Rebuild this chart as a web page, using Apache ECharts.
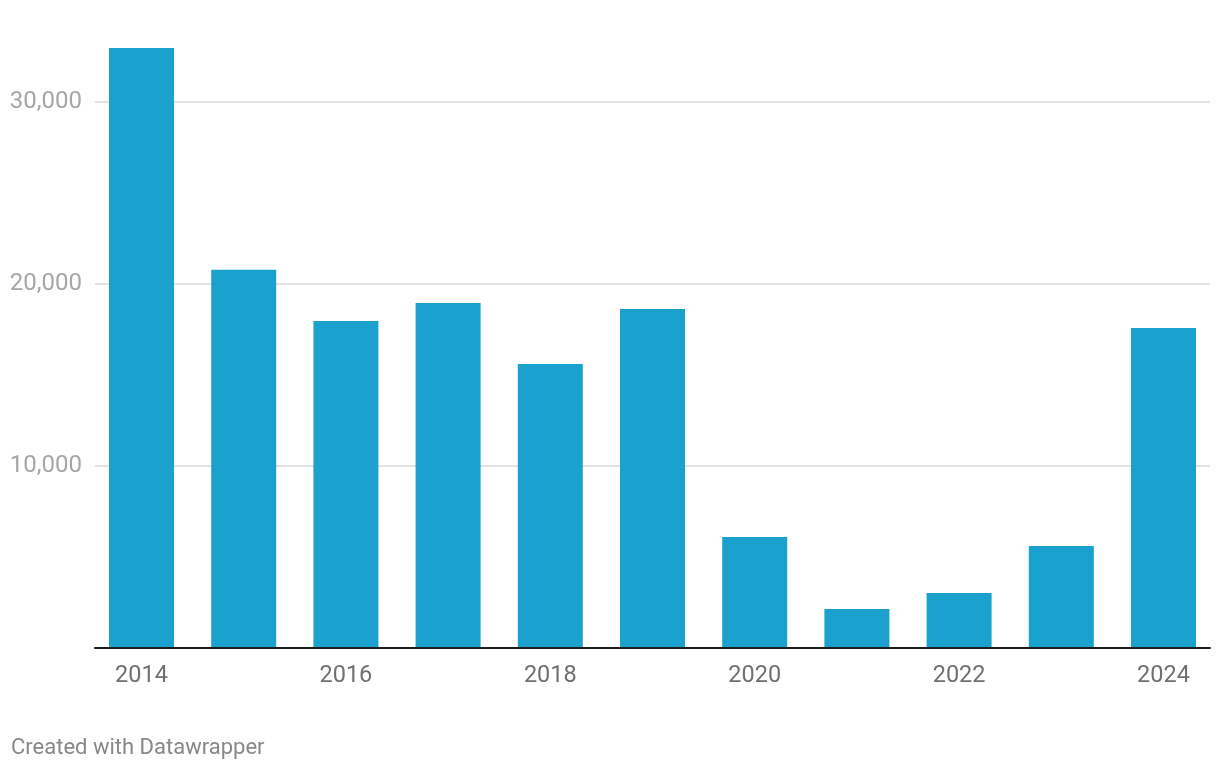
<!DOCTYPE html>
<html>
<head>
<meta charset="utf-8">
<script src="https://cdn.jsdelivr.net/npm/echarts@6/dist/echarts.min.js"></script>
<style>
* { margin: 0; padding: 0; }
body { background: #fff; }
#chart { width: 1220px; height: 770px; }
</style>
</head>
<body>
<div id="chart"></div>
<script>
// data
const years = ['2014', '2015', '2016', '2017', '2018', '2019', '2020', '2021', '2022', '2023', '2024']
const values = [32970, 20780, 17970, 18950, 15600, 18630, 6100, 2140, 3020, 5600, 17580]
const yMax = 35000
const yStep = 10000

const font = 'Roboto, "Noto Sans", sans-serif'
const chart = echarts.init(document.getElementById('chart'))

chart.setOption({
    animation: false,
    textStyle: { fontFamily: font },
    grid: [
        // bars
        { left: 90.4, width: 1124.2, top: 11, bottom: 122 },
        // gridlines, labels and baseline
        { left: 95, right: 10, top: 11, bottom: 122 }
    ],
    xAxis: [
        {
            type: 'category',
            gridIndex: 0,
            data: years,
            axisLine: { show: false },
            axisTick: { show: false },
            axisLabel: {
                interval: 1,
                color: '#707070',
                fontSize: 23.5,
                margin: 16
            }
        },
        {
            type: 'category',
            gridIndex: 1,
            data: years,
            axisLine: { show: true, lineStyle: { color: '#1e1e1e', width: 2 } },
            axisTick: { show: false },
            axisLabel: { show: false },
            z: 10
        }
    ],
    yAxis: [
        {
            type: 'value',
            gridIndex: 0,
            min: 0,
            max: yMax,
            interval: yStep,
            show: false,
            splitLine: { show: false }
        },
        {
            type: 'value',
            gridIndex: 1,
            min: 0,
            max: yMax,
            interval: yStep,
            axisLine: { show: false },
            axisTick: { show: false },
            axisLabel: {
                showMinLabel: false,
                showMaxLabel: false,
                color: '#a6a6a6',
                fontSize: 24,
                margin: 13,
                formatter: v => v.toLocaleString('en-US')
            },
            splitLine: {
                show: true,
                showMinLine: false,
                showMaxLine: false,
                lineStyle: { color: '#e3e3e3', width: 2 }
            }
        }
    ],
    series: [
        {
            type: 'bar',
            xAxisIndex: 0,
            yAxisIndex: 0,
            data: values,
            barWidth: 65,
            itemStyle: { color: '#1aa1cd' },
            z: 3
        }
    ],
    graphic: [
        {
            type: 'text',
            left: 11,
            top: 737,
            style: {
                text: 'Created with Datawrapper',
                fill: '#888888',
                font: '22px ' + font
            }
        }
    ]
})
</script>
</body>
</html>
